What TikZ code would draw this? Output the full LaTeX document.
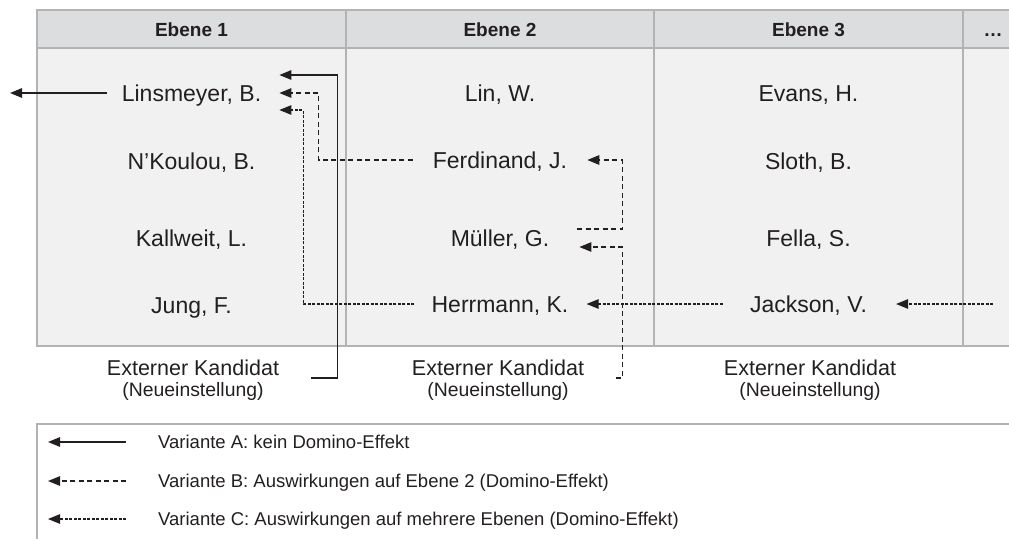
\documentclass[tikz,border=0pt]{standalone}
\usepackage{fontspec}
\setmainfont{Liberation Sans}
\usetikzlibrary{arrows.meta}
\definecolor{ink}{HTML}{231F20}
\definecolor{hdrfill}{HTML}{DCDDDE}
\definecolor{bodyfill}{HTML}{F1F1F1}
\definecolor{gridcol}{HTML}{B3B3B3}
\tikzset{
  person/.style={font=\fontsize{23}{27}\selectfont, text=ink, inner sep=0pt, text height=16.5pt, text depth=0pt, anchor=center},
  hdrtxt/.style={font=\bfseries\fontsize{19}{23}\selectfont, text=ink, inner sep=0pt, text height=13.6pt, text depth=0pt, anchor=center},
  exttxt/.style={font=\fontsize{21.5}{25}\selectfont, text=ink, inner sep=0pt, text height=15.4pt, text depth=0pt, anchor=center},
  neutxt/.style={font=\fontsize{19.4}{23}\selectfont, text=ink, inner sep=0pt, text height=13.9pt, text depth=0pt, anchor=center},
  legtxt/.style={font=\fontsize{18.5}{22}\selectfont, text=ink, inner sep=0pt, text height=13.2pt, text depth=0pt, anchor=west},
  gridline/.style={draw=gridcol, line width=2pt},
  tip/.style={-{Triangle[length=12pt,width=9.5pt]}},
  arrA/.style={tip, draw=ink, line width=1.3pt},
  arrB/.style={tip, draw=ink, line width=1.2pt, dash pattern=on 5pt off 3.5pt},
  arrC/.style={tip, draw=ink, line width=1.1pt, dash pattern=on 3pt off 1.5pt},
}
\begin{document}
\begin{tikzpicture}[x=1pt, y=-1pt]
\useasboundingbox (0,0) rectangle (1009,538);
\clip (0,0) rectangle (1009,538);
% table
\fill[hdrfill] (37,10) rectangle (1030,48);
\fill[bodyfill] (37,48) rectangle (1030,346);
\draw[gridline] (1030,10) -- (37,10) -- (37,346) -- (1030,346);
\draw[gridline] (37,48) -- (1030,48);
\draw[gridline] (346,10) -- (346,346);
\draw[gridline] (654,10) -- (654,346);
\draw[gridline] (963,10) -- (963,346);
% legend frame
\draw[gridline] (1030,424) -- (37,424) -- (37,560);
% headers
\node[hdrtxt] (h1) at (191.5,30) {Ebene 1};
\node[hdrtxt] (h2) at (500,30) {Ebene 2};
\node[hdrtxt] (h3) at (808.5,30) {Ebene 3};
\node[hdrtxt] (h4) at (993,30) {…};
% column 1
\node[person] (lins) at (191.5,93) {Linsmeyer, B.};
\node[person] (nkou) at (191.5,161) {N’Koulou, B.};
\node[person] (kall) at (191.5,238) {Kallweit, L.};
\node[person] (jung) at (191.5,305) {Jung, F.};
% column 2
\node[person] (lin) at (500,93) {Lin, W.};
\node[person] (ferd) at (500,160) {Ferdinand, J.};
\node[person] (muel) at (500,238) {Müller, G.};
\node[person] (herr) at (500,304) {Herrmann, K.};
% column 3
\node[person] (evans) at (808.5,93) {Evans, H.};
\node[person] (sloth) at (808.5,161) {Sloth, B.};
\node[person] (fella) at (808.5,238) {Fella, S.};
\node[person] (jack) at (808.5,304) {Jackson, V.};
% external candidates
\node[exttxt] (ext1) at (193,368) {Externer Kandidat};
\node[exttxt] (ext2) at (498,368) {Externer Kandidat};
\node[exttxt] (ext3) at (810,368) {Externer Kandidat};
\node[neutxt] (neu1) at (193,390) {(Neueinstellung)};
\node[neutxt] (neu2) at (498,390) {(Neueinstellung)};
\node[neutxt] (neu3) at (810,390) {(Neueinstellung)};
% legend
\node[legtxt] (legA) at (158,442) {Variante A: kein Domino-Effekt};
\node[legtxt] (legB) at (158,481) {Variante B: Auswirkungen auf Ebene 2 (Domino-Effekt)};
\node[legtxt] (legC) at (158,519) {Variante C: Auswirkungen auf mehrere Ebenen (Domino-Effekt)};
\draw[arrA] ([xshift=-32pt]legA.west) -- ([xshift=-110pt]legA.west);
\draw[arrB] ([xshift=-32pt]legB.west) -- ([xshift=-110pt]legB.west);
\draw[arrC] ([xshift=-32pt]legC.west) -- ([xshift=-110pt]legC.west);
% connectors
\coordinate (outA) at (10,93);
\draw[arrA] ([xshift=-15pt]lins.west) -- (outA);
\draw[arrA] ([xshift=32pt,yshift=-10pt]ext1.east) -- ++(26,0) |- ([xshift=18pt,yshift=18pt]lins.east);
\draw[arrB] ([xshift=-20pt]ferd.west) -- ++(-94,0) |- ([xshift=18pt]lins.east);
\draw[arrC] ([xshift=-17pt]herr.west) -- ++(-111,0) |- ([xshift=18pt,yshift=-17pt]lins.east);
\draw[arrB] ([xshift=28pt,yshift=9pt]muel.east) -- ++(45,0) |- ([xshift=20pt]ferd.east);
\draw[arrB] ([xshift=32pt,yshift=-10pt]ext2.east) -- ++(6,0) |- ([xshift=30pt,yshift=-9pt]muel.east);
\draw[arrC] ([xshift=-27pt]jack.west) -- ([xshift=18pt]herr.east);
\coordinate (inC) at (993,304);
\draw[arrC] (inC) -- ([xshift=29pt]jack.east);
\end{tikzpicture}
\end{document}
